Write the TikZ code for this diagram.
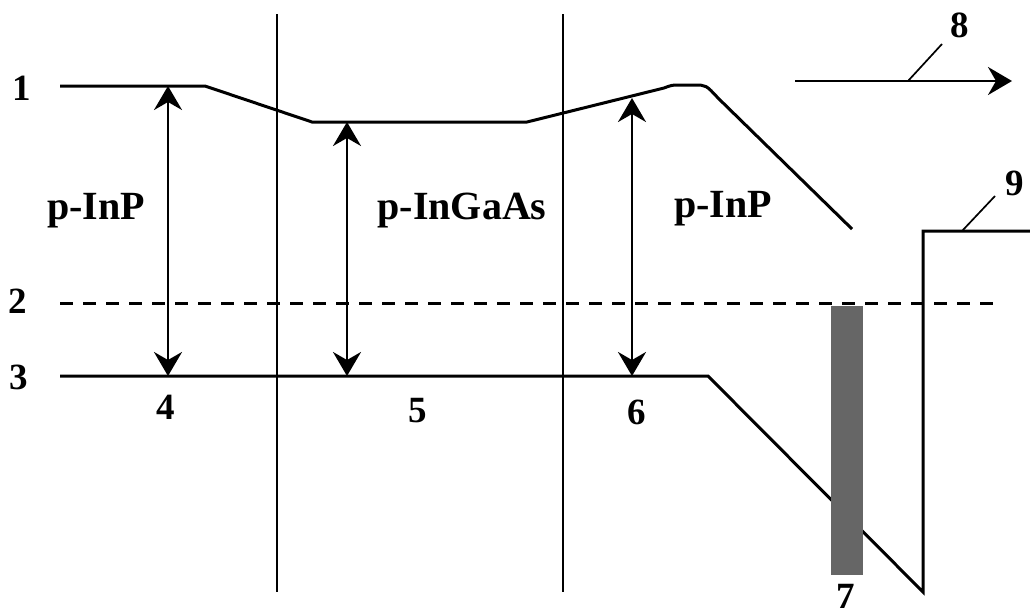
\documentclass[tikz,border=0pt]{standalone}
\usepackage{fontspec}
\setmainfont{Liberation Serif}
\usetikzlibrary{arrows.meta}
\definecolor{bargray}{HTML}{666666}
\begin{document}
\begin{tikzpicture}[x=1pt,y=-1pt,
  band/.style={line width=3pt},
  sepline/.style={line width=2.5pt},
  dashline/.style={line width=3pt, dash pattern=on 13pt off 10pt},
  dbl/.style={line width=2.6pt, {Stealth[length=24pt,width=28pt,inset=8pt]}-{Stealth[length=24pt,width=28pt,inset=8pt]}},
  fwd/.style={line width=2.6pt, -{Stealth[length=24pt,width=28pt,inset=8pt]}},
  leader/.style={line width=1.7pt},
  lbl/.style={font=\fontsize{40}{40}\selectfont\bfseries, inner sep=0pt, anchor=base},
  num/.style={font=\fontsize{37}{37}\selectfont\bfseries, inner sep=0pt, anchor=base},
  ]
\useasboundingbox (0,0) rectangle (1030,614);

% separators
\draw[sepline] (277,14) -- (277,592);
\draw[sepline] (563,14) -- (563,592);

% band edges
\draw[band] (60,86) -- (205,86) -- (312,122) -- (527,122) -- (664,88)
  .. controls (672,85) .. (680,85) -- (694,85)
  .. controls (706,85) .. (718,98) -- (852,229);
\draw[dashline] (60,303) -- (998,303);
\draw[band] (60,376) -- (708,376) -- (923,592) -- (923,231) -- (1030,231);

% gap arrows
\coordinate (a1t) at (168,86);  \coordinate (a1b) at (168,376);
\coordinate (a2t) at (347,122); \coordinate (a2b) at (347,376);
\coordinate (a3t) at (632,98);  \coordinate (a3b) at (632,376);
\draw[dbl] (a1t) -- (a1b);
\draw[dbl] (a2t) -- (a2b);
\draw[dbl] (a3t) -- (a3b);

% bar
\fill[bargray] (831,306) rectangle (863,575);

% direction arrow
\coordinate (d0) at (795,81); \coordinate (d1) at (1012,81);
\draw[fwd] (d0) -- (d1);

% labels
\node[lbl] (t1) at (96,219) {p-InP};
\node[lbl] (t2) at (462,219) {p-InGaAs};
\node[lbl] (t3) at (723,217) {p-InP};

\node[num] (n1) at (22,100) {1};
\node[num] (n2) at (18,313) {2};
\node[num] (n3) at (19,389) {3};
\node[num] (n4) at (166,419) {4};
\node[num] (n5) at (418,422) {5};
\node[num] (n6) at (637,424) {6};
\node[num] (n7) at (846,608) {7};
\node[num] (n8) at (960,37) {8};
\node[num] (n9) at (1015,195) {9};

% leaders
\coordinate (l8) at (908,81);
\coordinate (l9) at (962,231);
\draw[leader] (l8) -- (942,44);
\draw[leader] (l9) -- (995,196);
\end{tikzpicture}
\end{document}
